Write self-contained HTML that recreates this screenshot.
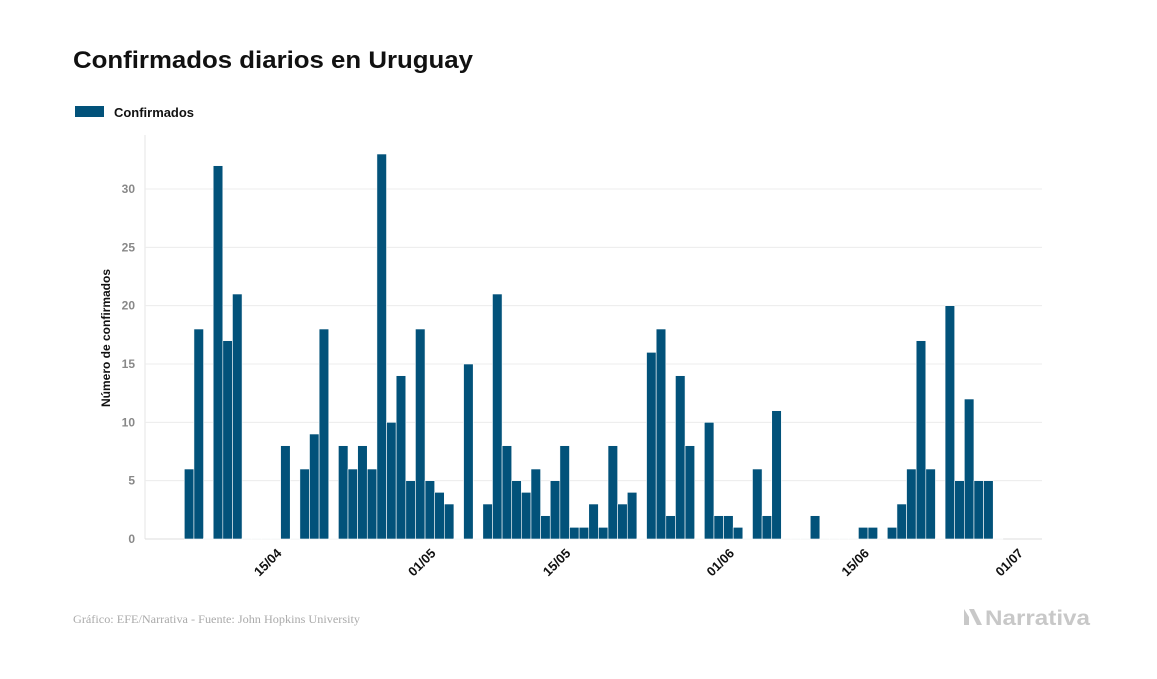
<!DOCTYPE html>
<html><head><meta charset="utf-8"><style>
body{margin:0;background:#fff;width:1157px;height:674px;overflow:hidden;font-family:"Liberation Sans",sans-serif}
</style></head><body>
<svg width="1157" height="674" viewBox="0 0 1157 674" xmlns="http://www.w3.org/2000/svg">
<text x="73" y="68" font-size="24" font-weight="bold" fill="#111" textLength="400" lengthAdjust="spacingAndGlyphs">Confirmados diarios en Uruguay</text>
<rect x="75" y="106" width="29" height="11" fill="#02527a"/>
<text x="114" y="117" font-size="13" font-weight="bold" fill="#111" textLength="80" lengthAdjust="spacingAndGlyphs">Confirmados</text>
<g id="grid"></g>
<g id="bars"></g>
<g id="xt"></g>
<text transform="translate(110,338) rotate(-90)" text-anchor="middle" font-size="12" font-weight="bold" fill="#111">Número de confirmados</text>
<text x="73" y="623" font-family="Liberation Serif,serif" font-size="12" fill="#aaa" textLength="287" lengthAdjust="spacingAndGlyphs">Gráfico: EFE/Narrativa - Fuente: John Hopkins University</text>
<g>
<path d="M964 609 l0 16 l5 0 l0 -8 z M969 609 l5 0 l8 16 l-5 0 z" fill="#c8c8c8"/>
<text x="985" y="625" font-size="21" font-weight="bold" fill="#c8c8c8" textLength="105" lengthAdjust="spacingAndGlyphs">Narrativa</text>
</g>
</svg>
<script>
const values=[6,18,0,32,17,21,0,0,0,0,8,0,6,9,18,0,8,6,8,6,33,10,14,5,18,5,4,3,0,15,0,3,21,8,5,4,6,2,5,8,1,1,3,1,8,3,4,0,16,18,2,14,8,0,10,2,2,1,0,6,2,11,0,0,0,2,0,0,0,0,1,1,0,1,3,6,17,6,0,20,5,12,5,5,0];
const yTicks=[0,5,10,15,20,25,30];
const xTickIdx=[10,26,40,57,71,87];
const xTickLabels=["15/04","01/05","15/05","01/06","15/06","01/07"];
const NS="http://www.w3.org/2000/svg";
const x0=184.3,step=9.63,y0=539,ppu=350/30;
const x=i=>x0+i*step;
const y=v=>y0-v*ppu;
const grid=document.getElementById('grid'),bars=document.getElementById('bars'),xt=document.getElementById('xt');
const ax=document.createElementNS(NS,'line');
ax.setAttribute('x1',145);ax.setAttribute('x2',145);ax.setAttribute('y1',135);ax.setAttribute('y2',539);ax.setAttribute('stroke','#e6e6e6');


grid.appendChild(ax);
yTicks.forEach(t=>{
 const l=document.createElementNS(NS,'line');
 l.setAttribute('x1',145);l.setAttribute('x2',1042);l.setAttribute('y1',y(t));l.setAttribute('y2',y(t));l.setAttribute('stroke',t===0?'#ddd':'#ececec');
 
 
 grid.appendChild(l);
 const tx=document.createElementNS(NS,'text');
 tx.setAttribute('x',135);tx.setAttribute('y',y(t)+4);tx.setAttribute('text-anchor','end');tx.setAttribute('font-size','12');tx.setAttribute('font-weight','bold');tx.setAttribute('fill','#888');
 tx.textContent=t;
 
 
 grid.appendChild(tx);
});
values.forEach((v,i)=>{
 const r=document.createElementNS(NS,'rect');
 const h=Math.max(v*ppu,0.8);
 r.setAttribute('x',x(i));r.setAttribute('width',step);r.setAttribute('y',y0-h);r.setAttribute('height',h);
 r.setAttribute('fill',v>0?'#02527a':'#e8eef2');r.setAttribute('stroke','#fff');r.setAttribute('stroke-width','0.6');
 
 
 bars.appendChild(r);
});
xTickIdx.forEach((d,k)=>{
 const cx=x(d)+step/2;
 const tx=document.createElementNS(NS,'text');
 tx.setAttribute('transform',`translate(${cx-3},${554}) rotate(-45)`);
 tx.setAttribute('text-anchor','end');tx.setAttribute('font-size','13');tx.setAttribute('font-weight','bold');tx.setAttribute('fill','#111');
 tx.textContent=xTickLabels[k];
 
 
 xt.appendChild(tx);
});
</script>
</body></html>
